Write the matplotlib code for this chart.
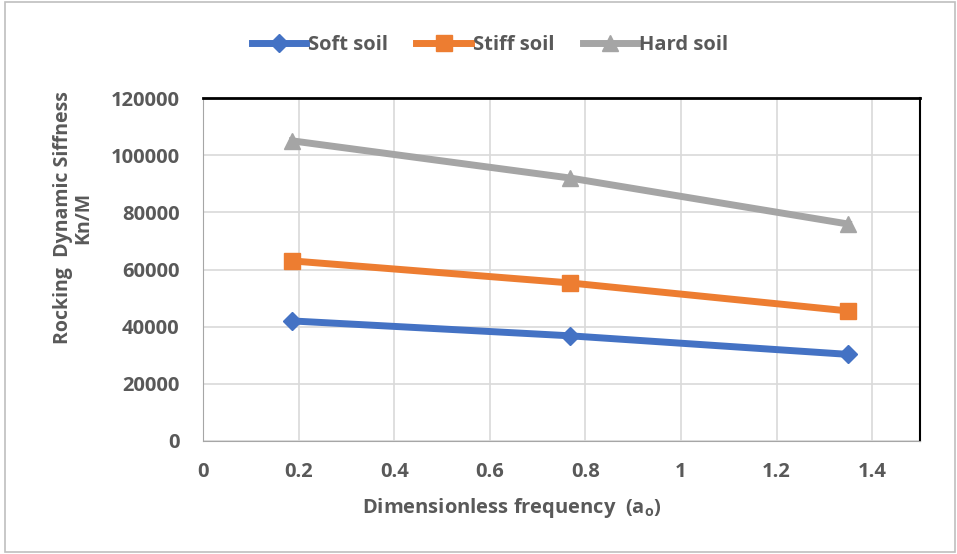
import numpy as np
import matplotlib.pyplot as plt
from matplotlib.patches import Rectangle

# data
freq = [0.187, 0.768, 1.35]
soft = [42000, 36800, 30300]
stiff = [63000, 55300, 45500]
hard = [105000, 92000, 75900]
xticks = [0, 0.2, 0.4, 0.6, 0.8, 1, 1.2, 1.4]
yticks = [0, 20000, 40000, 60000, 80000, 100000, 120000]

plt.rcParams['font.family'] = ['Open Sans', 'DejaVu Sans']
plt.rcParams['font.weight'] = 'bold'
txt = '#595959'
fs = 14.5

fig = plt.figure(figsize=(9.57, 5.54), dpi=100)
ax = fig.add_axes([203/957, 1 - 441/554, 717/957, 343/554])

ax.plot(freq, soft, color='#4472c4', lw=5, marker='D', ms=9, label='Soft soil')
ax.plot(freq, stiff, color='#ed7d31', lw=5, marker='s', ms=11, label='Stiff soil')
ax.plot(freq, hard, color='#a5a5a5', lw=5, marker='^', ms=12, label='Hard soil')

ax.set_xlim(0, 1.5)
ax.set_ylim(0, 120000)
ax.set_xticks(xticks)
ax.set_xticklabels([str(t) for t in xticks])
ax.set_yticks(yticks)
ax.grid(True, color='#d9d9d9', lw=1.2)
ax.set_axisbelow(True)
ax.tick_params(length=0, labelsize=fs, labelcolor=txt)
ax.tick_params(axis='y', pad=17)
ax.tick_params(axis='x', pad=15)
for t in ax.get_xticklabels() + ax.get_yticklabels():
    t.set_fontweight('bold')

ax.spines['top'].set_color('black')
ax.spines['top'].set_linewidth(2)
ax.spines['right'].set_color('black')
ax.spines['right'].set_linewidth(1.5)
ax.spines['left'].set_color('#a6a6a6')
ax.spines['bottom'].set_color('#a6a6a6')

ax.set_xlabel('Dimensionless frequency  (a$_\\mathregular{o}$)', fontsize=fs,
              fontweight='bold', color=txt)
ax.xaxis.set_label_coords(0.43, -0.16)
ax.set_ylabel('Rocking  Dynamic Siffness\nKn/M', fontsize=14,
              fontweight='bold', color=txt, linespacing=1.0)
ax.yaxis.set_label_coords(-0.153, 0.65)

leg = fig.legend(loc='center', bbox_to_anchor=(490/957, 1 - 45/554), ncol=3,
                 frameon=False, fontsize=fs, handlelength=2.7, columnspacing=1.4,
                 handletextpad=0.1)
for t in leg.get_texts():
    t.set_color(txt)
    t.set_fontweight('bold')

# outer chart frame
fig.patches.append(Rectangle((5/957, 2/554), 950/957, 550/554, transform=fig.transFigure,
                             fill=False, edgecolor='#bfbfbf', lw=1.2))

fig.savefig('out.png', dpi=100)
